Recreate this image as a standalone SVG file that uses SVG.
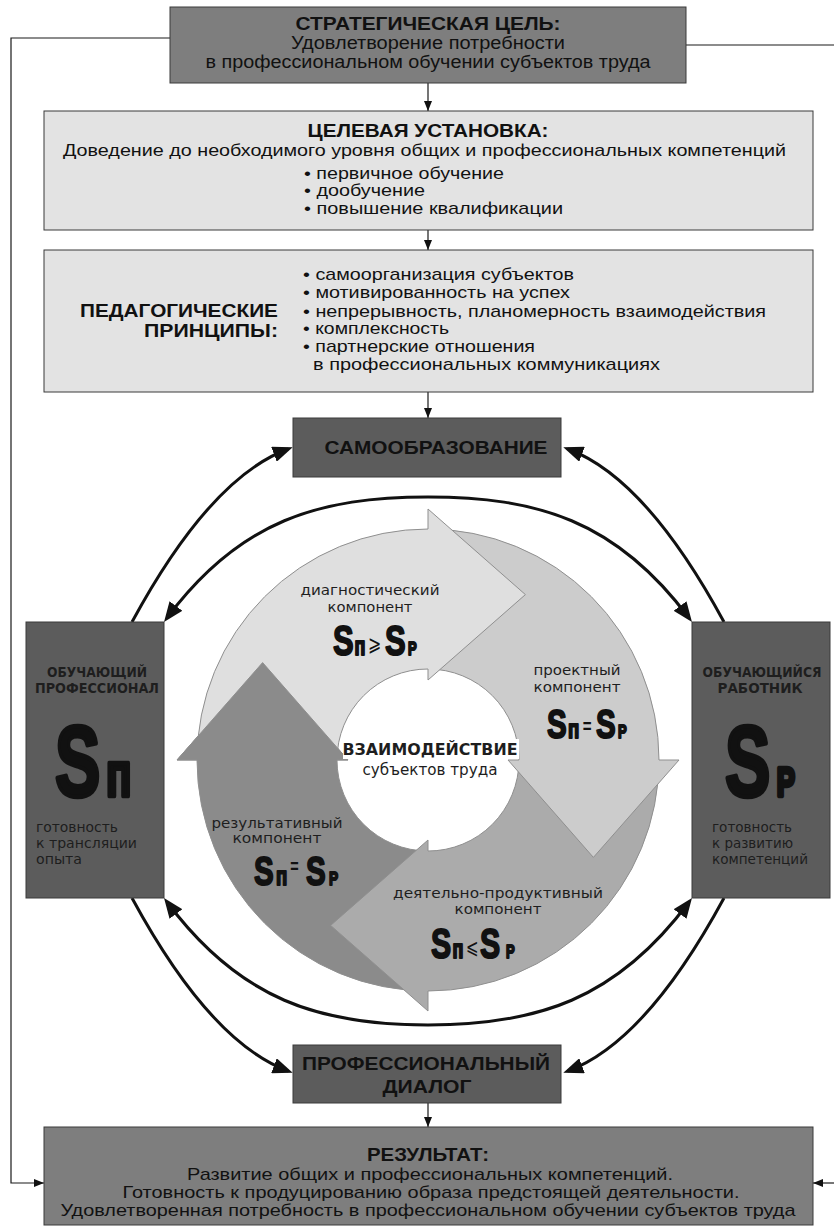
<svg xmlns="http://www.w3.org/2000/svg" width="834" height="1232" viewBox="0 0 834 1232">
<defs>
<style>
.n{font-family:'Liberation Sans',Arial,sans-serif;fill:#111}
.b{font-weight:bold}
.w{font-family:'DejaVu Sans',Verdana,sans-serif;fill:#1e1e1e}
.S{font-family:'Liberation Sans',Arial,sans-serif;font-weight:bold;fill:#111;stroke:#111;stroke-width:2;stroke-linejoin:round}
.sg{font-family:'DejaVu Sans',sans-serif;font-weight:normal;stroke:none}
.eq{stroke:none}
.box{stroke:#3a3a3a;stroke-width:1}
.mid{fill:#7e7e7e}
.lt{fill:#e3e3e3}
.dk{fill:#5c5c5c}
.thin{fill:none;stroke:#1a1a1a;stroke-width:1.2}
.thick{fill:none;stroke:#111;stroke-width:3}
.edge{fill:none;stroke:#8f8f8f;stroke-width:1}
</style>
<marker id="ah" viewBox="0 0 20 16" refX="15" refY="8" markerWidth="20" markerHeight="16" markerUnits="userSpaceOnUse" orient="auto-start-reverse"><path d="M0,0 L20,8 L0,16 Z" fill="#111"/></marker>
<marker id="as" viewBox="0 0 10 8" refX="10" refY="4" markerWidth="10" markerHeight="8" markerUnits="userSpaceOnUse" orient="auto"><path d="M0,0 L10,4 L0,8 Z" fill="#111"/></marker>
</defs>
<rect width="834" height="1232" fill="#fff"/>

<g id="connectors">
<path class="thin" d="M170,38 L11,38 L11,1183 L44,1183" marker-end="url(#as)"/>
<path class="thin" d="M686,45 L834,45"/>
<path class="thin" d="M834,1183 L813,1183" marker-end="url(#as)"/>
<path class="thin" d="M428,83 L428,111" marker-end="url(#as)"/>
<path class="thin" d="M428,230 L428,250" marker-end="url(#as)"/>
<path class="thin" d="M428,392 L428,418" marker-end="url(#as)"/>
<path class="thin" d="M428,1103 L428,1127" marker-end="url(#as)"/>
<path class="thick" d="M132,622 Q210,478 288,449" marker-end="url(#ah)"/>
<path class="thick" d="M724,622 Q646,478 568,449" marker-end="url(#ah)"/>
<path class="thick" d="M167,618 C240,520 320,497 428,497 C536,497 616,520 689,618" marker-start="url(#ah)" marker-end="url(#ah)"/>
<path class="thick" d="M132,898 Q210,1042 288,1071" marker-end="url(#ah)"/>
<path class="thick" d="M724,898 Q646,1042 568,1071" marker-end="url(#ah)"/>
<path class="thick" d="M167,902 C240,1000 320,1025 428,1025 C536,1025 616,1000 689,902" marker-start="url(#ah)" marker-end="url(#ah)"/>
</g>

<g id="strategic-goal">
<rect class="box mid" x="170" y="7" width="516" height="76"/>
<text class="n b" x="428" y="30" font-size="18.5" text-anchor="middle" textLength="265" lengthAdjust="spacingAndGlyphs">СТРАТЕГИЧЕСКАЯ ЦЕЛЬ:</text>
<text class="n" x="428" y="49" font-size="17.5" text-anchor="middle" textLength="274" lengthAdjust="spacingAndGlyphs">Удовлетворение потребности</text>
<text class="n" x="428" y="68" font-size="17.5" text-anchor="middle" textLength="445" lengthAdjust="spacingAndGlyphs">в профессиональном обучении субъектов труда</text>
</g>

<g id="target-setting">
<rect class="box lt" x="44" y="111" width="769" height="119"/>
<text class="n b" x="428" y="137" font-size="18" text-anchor="middle" textLength="241" lengthAdjust="spacingAndGlyphs">ЦЕЛЕВАЯ УСТАНОВКА:</text>
<text class="n" x="63" y="156" font-size="17" textLength="723" lengthAdjust="spacingAndGlyphs">Доведение до необходимого уровня общих и профессиональных компетенций</text>
<text class="n" x="304" y="179" font-size="17" textLength="200" lengthAdjust="spacingAndGlyphs">• первичное обучение</text>
<text class="n" x="304" y="196" font-size="17" textLength="121" lengthAdjust="spacingAndGlyphs">• дообучение</text>
<text class="n" x="304" y="214" font-size="17" textLength="259" lengthAdjust="spacingAndGlyphs">• повышение квалификации</text>
</g>

<g id="principles">
<rect class="box lt" x="44" y="250" width="769" height="142"/>
<text class="n b" x="278" y="317" font-size="18" text-anchor="end" textLength="198" lengthAdjust="spacingAndGlyphs">ПЕДАГОГИЧЕСКИЕ</text>
<text class="n b" x="278" y="337" font-size="18" text-anchor="end" textLength="134" lengthAdjust="spacingAndGlyphs">ПРИНЦИПЫ:</text>
<text class="n" x="303" y="280" font-size="17" textLength="271" lengthAdjust="spacingAndGlyphs">• самоорганизация субъектов</text>
<text class="n" x="303" y="298" font-size="17" textLength="267" lengthAdjust="spacingAndGlyphs">• мотивированность на успех</text>
<text class="n" x="303" y="317" font-size="17" textLength="463" lengthAdjust="spacingAndGlyphs">• непрерывность, планомерность взаимодействия</text>
<text class="n" x="303" y="334" font-size="17" textLength="146" lengthAdjust="spacingAndGlyphs">• комплексность</text>
<text class="n" x="303" y="352" font-size="17" textLength="232" lengthAdjust="spacingAndGlyphs">• партнерские отношения</text>
<text class="n" x="313" y="370" font-size="17" textLength="347" lengthAdjust="spacingAndGlyphs">в профессиональных коммуникациях</text>
</g>

<g id="self-education">
<rect class="box dk" x="293" y="418" width="268" height="59"/>
<text class="n b" x="436" y="454" font-size="19" text-anchor="middle" textLength="223" lengthAdjust="spacingAndGlyphs" fill="#1a1a1a">САМООБРАЗОВАНИЕ</text>
</g>

<g id="interaction-cycle">
<path d="M428,991 A231,231 0 0 1 197,760 L177,760 L262.6,662.6 L348,760 L337,760 A91,91 0 0 0 428,851 Z" fill="#8b8b8b"/>
<path class="edge" d="M428,991 A231,231 0 0 1 197,760 L177,760 L262.6,662.6 L348,760 L337,760 A91,91 0 0 0 428,851"/>
<path d="M659,760 A231,231 0 0 1 428,991 L428,1011 L330.6,925.4 L428,840 L428,851 A91,91 0 0 0 519,760 Z" fill="#ababab"/>
<path class="edge" d="M659,760 A231,231 0 0 1 428,991 L428,1011 L330.6,925.4 L428,840 L428,851 A91,91 0 0 0 519,760"/>
<path d="M428,529 A231,231 0 0 1 659,760 L679,760 L593.4,857.4 L508,760 L519,760 A91,91 0 0 0 428,669 Z" fill="#cccccc"/>
<path class="edge" d="M428,529 A231,231 0 0 1 659,760 L679,760 L593.4,857.4 L508,760 L519,760 A91,91 0 0 0 428,669"/>
<path d="M197,760 A231,231 0 0 1 428,529 L428,509 L525.4,594.6 L428,680 L428,669 A91,91 0 0 0 337,760 Z" fill="#dfdfdf"/>
<path class="edge" d="M197,760 A231,231 0 0 1 428,529 L428,509 L525.4,594.6 L428,680 L428,669 A91,91 0 0 0 337,760"/>
<path d="M177,760 L262.6,662.6 L348,760 Z" fill="#8b8b8b"/>
<path class="edge" d="M197,760 L177,760 L262.6,662.6 L348,760 L337,760"/>

<text class="w" x="370" y="595" font-size="14.5" text-anchor="middle" textLength="139" lengthAdjust="spacingAndGlyphs">диагностический</text>
<text class="w" x="370" y="612" font-size="14.5" text-anchor="middle" textLength="85" lengthAdjust="spacingAndGlyphs">компонент</text>
<text class="S" transform="translate(333,655) scale(0.72,1)"><tspan x="0" y="0" font-size="43">S</tspan><tspan x="30" y="0" font-size="25">п</tspan><tspan class="sg" x="48.6" y="-4" font-size="22">⩾</tspan><tspan x="72.2" y="0" font-size="43">S</tspan><tspan x="104.2" y="0" font-size="18">Р</tspan></text>

<text class="w" x="577" y="675" font-size="14.5" text-anchor="middle" textLength="87" lengthAdjust="spacingAndGlyphs">проектный</text>
<text class="w" x="577" y="692" font-size="14.5" text-anchor="middle" textLength="87" lengthAdjust="spacingAndGlyphs">компонент</text>
<text class="S" transform="translate(547,738) scale(0.72,1)"><tspan x="0" y="0" font-size="41">S</tspan><tspan x="29" y="0" font-size="26">п</tspan><tspan class="eq" x="49.5" y="-5" font-size="21">=</tspan><tspan x="68.1" y="0" font-size="41">S</tspan><tspan x="98.6" y="0" font-size="18">Р</tspan></text>

<text class="w" x="277" y="828" font-size="14.5" text-anchor="middle" textLength="131" lengthAdjust="spacingAndGlyphs">результативный</text>
<text class="w" x="277" y="843" font-size="14.5" text-anchor="middle" textLength="89" lengthAdjust="spacingAndGlyphs">компонент</text>
<text class="S" transform="translate(254,885) scale(0.72,1)"><tspan x="0" y="0" font-size="41">S</tspan><tspan x="30.5" y="0" font-size="26">п</tspan><tspan class="eq" x="50.5" y="-12" font-size="20">=</tspan><tspan x="72.2" y="0" font-size="41">S</tspan><tspan x="104.2" y="0" font-size="19">Р</tspan></text>

<text class="w" x="498" y="898" font-size="14.5" text-anchor="middle" textLength="210" lengthAdjust="spacingAndGlyphs">деятельно-продуктивный</text>
<text class="w" x="498" y="914" font-size="14.5" text-anchor="middle" textLength="87" lengthAdjust="spacingAndGlyphs">компонент</text>
<text class="S" transform="translate(431,958) scale(0.72,1)"><tspan x="0" y="0" font-size="42">S</tspan><tspan x="30" y="0" font-size="25">п</tspan><tspan class="sg" x="48.6" y="-4" font-size="21">⩽</tspan><tspan x="68.1" y="0" font-size="42">S</tspan><tspan x="104.2" y="0" font-size="18">Р</tspan></text>

<rect x="343" y="739" width="176" height="20" fill="#fff"/>
<text class="w b" x="430" y="755" font-size="15.5" text-anchor="middle" textLength="175" lengthAdjust="spacingAndGlyphs" fill="#111">ВЗАИМОДЕЙСТВИЕ</text>
<text class="w" x="430" y="775" font-size="15" text-anchor="middle" textLength="135" lengthAdjust="spacingAndGlyphs">субъектов труда</text>
</g>

<g id="teaching-professional">
<rect class="box dk" x="26" y="622" width="138" height="276"/>
<text class="w b" x="97" y="677" font-size="13.5" text-anchor="middle" textLength="100" lengthAdjust="spacingAndGlyphs" fill="#111">ОБУЧАЮЩИЙ</text>
<text class="w b" x="97" y="693" font-size="13.5" text-anchor="middle" textLength="124" lengthAdjust="spacingAndGlyphs" fill="#111">ПРОФЕССИОНАЛ</text>
<text class="S" transform="translate(55,796) scale(0.68,1)" style="stroke-width:4.5"><tspan x="0" y="0" font-size="100">S</tspan><tspan x="75" y="0" font-size="62">п</tspan></text>
<text class="w" x="36" y="832" font-size="13.5" textLength="82" lengthAdjust="spacingAndGlyphs">готовность</text>
<text class="w" x="36" y="848" font-size="13.5" textLength="101" lengthAdjust="spacingAndGlyphs">к трансляции</text>
<text class="w" x="36" y="864" font-size="13.5" textLength="46" lengthAdjust="spacingAndGlyphs">опыта</text>
</g>

<g id="learning-worker">
<rect class="box dk" x="692" y="622" width="138" height="276"/>
<text class="w b" x="762" y="677" font-size="13.5" text-anchor="middle" textLength="119" lengthAdjust="spacingAndGlyphs" fill="#111">ОБУЧАЮЩИЙСЯ</text>
<text class="w b" x="760" y="693" font-size="13.5" text-anchor="middle" textLength="85" lengthAdjust="spacingAndGlyphs" fill="#111">РАБОТНИК</text>
<text class="S" transform="translate(725,796) scale(0.68,1)" style="stroke-width:4.5"><tspan x="0" y="0" font-size="100">S</tspan><tspan x="76" y="0" font-size="40">Р</tspan></text>
<text class="w" x="712" y="832" font-size="13.5" textLength="80" lengthAdjust="spacingAndGlyphs">готовность</text>
<text class="w" x="712" y="848" font-size="13.5" textLength="81" lengthAdjust="spacingAndGlyphs">к развитию</text>
<text class="w" x="712" y="864" font-size="13.5" textLength="96" lengthAdjust="spacingAndGlyphs">компетенций</text>
</g>

<g id="professional-dialogue">
<rect class="box dk" x="293" y="1045" width="268" height="58"/>
<text class="n b" x="426" y="1070" font-size="19" text-anchor="middle" textLength="248" lengthAdjust="spacingAndGlyphs" fill="#1a1a1a">ПРОФЕССИОНАЛЬНЫЙ</text>
<text class="n b" x="427" y="1093" font-size="19" text-anchor="middle" textLength="89" lengthAdjust="spacingAndGlyphs" fill="#1a1a1a">ДИАЛОГ</text>
</g>

<g id="result">
<rect class="box mid" x="44" y="1127" width="769" height="98"/>
<text class="n b" x="428" y="1161" font-size="18.5" text-anchor="middle" textLength="122" lengthAdjust="spacingAndGlyphs">РЕЗУЛЬТАТ:</text>
<text class="n" x="430" y="1180" font-size="17" text-anchor="middle" textLength="486" lengthAdjust="spacingAndGlyphs">Развитие общих и профессиональных компетенций.</text>
<text class="n" x="431" y="1198" font-size="17" text-anchor="middle" textLength="617" lengthAdjust="spacingAndGlyphs">Готовность к продуцированию образа предстоящей деятельности.</text>
<text class="n" x="428" y="1216" font-size="17" text-anchor="middle" textLength="735" lengthAdjust="spacingAndGlyphs">Удовлетворенная потребность в профессиональном обучении субъектов труда</text>
</g>
</svg>
